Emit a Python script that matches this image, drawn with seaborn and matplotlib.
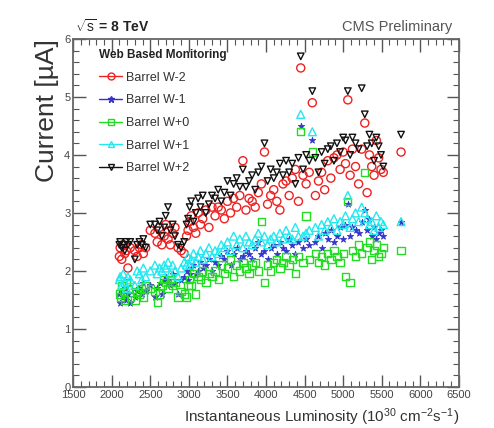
import matplotlib
matplotlib.use("Agg")
import matplotlib.pyplot as plt
from matplotlib.lines import Line2D
from matplotlib.ticker import MultipleLocator
import seaborn as sns
import pandas as pd

# ---------------- data ----------------
luminosity = [
    2100, 2110, 2130, 2150, 2170, 2190, 2210, 2240, 2300, 2330,
    2360, 2390, 2410, 2440, 2500, 2560, 2590, 2620, 2650, 2680,
    2700, 2730, 2760, 2790, 2820, 2860, 2900, 2940, 2970, 2990,
    3010, 3030, 3060, 3090, 3120, 3150, 3180, 3220, 3260, 3300,
    3340, 3380, 3420, 3460, 3500, 3540, 3580, 3620, 3660, 3700,
    3740, 3780, 3820, 3860, 3900, 3940, 3980, 4020, 4060, 4100,
    4140, 4180, 4220, 4260, 4300, 4340, 4380, 4420, 4450, 4480,
    4520, 4560, 4600, 4640, 4680, 4720, 4760, 4800, 4840, 4880,
    4920, 4960, 5000, 5030, 5060, 5090, 5120, 5160, 5200, 5240,
    5280, 5310, 5340, 5370, 5400, 5430, 5460, 5490, 5520, 5750,
]

barrel_wm2 = [
    2.25, 2.40, 2.20, 2.45, 2.30, 2.35, 2.05, 2.40, 2.35, 2.25,
    2.40, 2.45, 2.30, 2.40, 2.70, 2.65, 2.50, 2.75, 2.45, 2.60,
    2.80, 2.55, 2.45, 2.65, 2.75, 2.40, 2.35, 2.30, 2.60, 2.70,
    2.85, 2.95, 2.75, 2.65, 3.00, 2.80, 2.90, 3.05, 2.75, 3.10,
    2.95, 3.10, 3.05, 2.90, 3.20, 3.00, 3.25, 3.10, 3.30, 3.90,
    3.05, 3.25, 3.20, 3.10, 3.35, 3.50, 4.05, 3.15, 3.30, 3.40,
    3.20, 3.05, 3.50, 3.55, 3.30, 3.60, 3.75, 3.20, 5.50, 3.65,
    3.50, 3.70, 4.90, 3.30, 3.55, 3.70, 3.40, 3.90, 3.60, 3.95,
    4.00, 3.75, 4.05, 3.85, 4.95, 3.65, 4.10, 3.80, 3.50, 4.10,
    4.55, 3.35, 4.00, 3.80, 3.65, 4.25, 3.95, 3.75, 3.70, 4.05,
]

barrel_wm1 = [
    1.60, 1.45, 1.65, 1.55, 1.70, 1.50, 1.60, 1.45, 1.55, 1.65,
    1.70, 1.60, 1.80, 1.65, 1.75, 1.55, 1.70, 1.80, 1.60, 1.85,
    1.90, 1.85, 1.75, 1.95, 1.80, 1.60, 1.85, 1.90, 2.00, 1.85,
    1.95, 2.05, 2.10, 1.95, 2.00, 2.15, 2.05, 2.10, 2.20, 2.00,
    2.15, 2.10, 2.25, 2.20, 2.35, 2.10, 2.30, 2.40, 2.20, 2.25,
    2.35, 2.30, 2.20, 2.40, 2.50, 2.30, 2.35, 2.20, 2.40, 2.45,
    2.30, 2.50, 2.40, 2.35, 2.55, 2.45, 2.30, 2.50, 4.50, 2.40,
    2.55, 2.45, 4.25, 2.50, 2.60, 2.40, 2.65, 2.55, 2.70, 2.50,
    2.60, 2.75, 2.55, 2.80, 3.15, 2.60, 2.75, 2.70, 2.65, 2.85,
    3.05, 2.70, 2.90, 2.60, 2.75, 2.55, 2.65, 2.70, 2.60, 2.85,
]

barrel_w0 = [
    1.60, 1.55, 1.75, 1.65, 1.50, 1.80, 1.70, 1.55, 1.50, 1.65,
    1.60, 1.70, 1.55, 1.75, 1.70, 1.65, 1.45, 1.60, 1.75, 1.85,
    1.80, 1.70, 1.85, 1.75, 1.80, 1.55, 1.65, 1.60, 1.55, 1.75,
    1.85, 1.75, 1.95, 1.60, 1.90, 1.85, 2.00, 1.80, 1.95, 1.90,
    2.00, 1.85, 2.10, 1.95, 2.05, 2.20, 1.90, 2.10, 2.00, 2.15,
    2.05, 1.95, 2.10, 2.15, 2.00, 2.85, 1.80, 2.10, 2.00, 2.15,
    2.20, 2.05, 2.15, 2.25, 2.10, 2.20, 1.95, 2.25, 4.40, 2.15,
    2.95, 2.20, 4.05, 2.30, 2.15, 2.25, 2.10, 2.30, 2.20, 2.35,
    2.25, 2.15, 2.30, 1.90, 3.20, 1.80, 2.35, 2.25, 2.45, 2.30,
    3.70, 2.40, 2.50, 2.20, 2.35, 2.45, 2.25, 2.30, 2.40, 2.35,
]

barrel_wp1 = [
    1.85, 1.90, 1.75, 1.95, 1.80, 1.70, 1.90, 1.85, 1.75, 2.00,
    1.95, 1.85, 2.05, 1.90, 2.00, 2.10, 1.95, 2.05, 2.00, 2.10,
    2.05, 2.15, 1.95, 2.10, 2.00, 1.90, 2.05, 2.15, 2.10, 2.25,
    2.10, 2.20, 2.30, 2.15, 2.25, 2.35, 2.20, 2.30, 2.40, 2.25,
    2.35, 2.30, 2.45, 2.40, 2.50, 2.35, 2.60, 2.45, 2.55, 2.40,
    2.60, 2.50, 2.45, 2.55, 2.65, 2.50, 2.60, 2.45, 2.55, 2.60,
    2.50, 2.65, 2.55, 2.70, 2.60, 2.55, 2.75, 2.60, 4.70, 2.60,
    2.65, 2.70, 4.40, 2.75, 2.60, 2.80, 2.70, 2.85, 2.75, 2.90,
    2.70, 2.85, 2.80, 2.95, 3.30, 2.75, 2.90, 3.00, 2.85, 3.10,
    3.00, 2.90, 2.80, 2.85, 2.70, 2.95, 2.75, 2.85, 2.80, 2.85,
]

barrel_wp2 = [
    2.45, 2.50, 2.40, 2.45, 2.35, 2.50, 2.45, 2.50, 2.20, 2.45,
    2.50, 2.45, 2.55, 2.40, 2.80, 2.80, 2.70, 2.85, 2.60, 2.75,
    2.95, 3.10, 2.70, 2.80, 2.60, 2.45, 2.40, 2.50, 2.80, 2.90,
    3.10, 3.20, 2.85, 3.00, 3.25, 3.10, 3.30, 3.00, 3.15, 3.30,
    3.25, 3.40, 3.20, 3.35, 3.55, 3.30, 3.50, 3.60, 3.45, 3.75,
    3.45, 3.55, 3.65, 3.40, 3.70, 3.80, 4.20, 3.55, 3.75, 3.60,
    3.70, 3.85, 3.65, 3.90, 3.70, 3.85, 3.50, 3.95, 5.70, 3.75,
    4.00, 3.90, 5.10, 3.95, 3.70, 4.05, 3.85, 4.10, 4.15, 3.90,
    4.20, 4.05, 4.30, 4.25, 5.10, 4.00, 4.30, 4.20, 4.10, 5.15,
    4.70, 4.15, 4.35, 4.20, 3.90, 4.30, 4.15, 4.00, 3.80, 4.35,
]

series_names = ["Barrel W-2", "Barrel W-1", "Barrel W+0", "Barrel W+1", "Barrel W+2"]
series_values = [barrel_wm2, barrel_wm1, barrel_w0, barrel_wp1, barrel_wp2]

x_ticks = [1500, 2000, 2500, 3000, 3500, 4000, 4500, 5000, 5500, 6000, 6500]
y_ticks = [0, 1, 2, 3, 4, 5, 6]

# ---------------- styles ----------------
colors = ["#ee2222", "#3333cc", "#22dd22", "#22e8f0", "#111111"]
markers = ["o", "*", "s", "^", "v"]
open_marker = [True, False, True, True, True]
sizes = [34, 24, 28, 32, 22]

frames = []
for name, vals in zip(series_names, series_values):
    frames.append(pd.DataFrame({"lumi": luminosity, "current": vals, "wheel": name}))
df = pd.concat(frames, ignore_index=True)

sns.set_theme(style="white")
plt.rcParams["font.family"] = ["Liberation Sans", "DejaVu Sans"]
plt.rcParams["mathtext.fontset"] = "custom"
plt.rcParams["mathtext.rm"] = "Liberation Sans"
plt.rcParams["mathtext.it"] = "Liberation Sans"
plt.rcParams["mathtext.bf"] = "Liberation Sans:bold"

fig = plt.figure(figsize=(4.94, 4.28), dpi=100)
ax = fig.add_axes([0.148, 0.096, 0.781, 0.813])

for name, col, mk, op, sz in zip(series_names, colors, markers, open_marker, sizes):
    sub = df[df["wheel"] == name]
    if op:
        sns.scatterplot(data=sub, x="lumi", y="current", ax=ax, marker=mk, s=sz,
                        facecolor="none", edgecolor=col, linewidth=1.0, legend=False)
    else:
        sns.scatterplot(data=sub, x="lumi", y="current", ax=ax, marker=mk, s=sz,
                        color=col, edgecolor=col, linewidth=0.5, legend=False)

ax.set_xlim(1500, 6500)
ax.set_ylim(0, 6)
ax.set_xticks(x_ticks)
ax.set_yticks(y_ticks)
ax.xaxis.set_minor_locator(MultipleLocator(100))
ax.yaxis.set_minor_locator(MultipleLocator(0.2))
ax.tick_params(which="both", direction="in", top=True, right=True, bottom=True, left=True,
               colors="#555555", labelcolor="#444444")
ax.tick_params(which="major", length=9, width=1.0, labelsize=8, pad=2)
ax.tick_params(which="minor", length=4.5, width=0.8)
for sp in ax.spines.values():
    sp.set_color("#666666")
    sp.set_linewidth(1.3)

ax.set_xlabel(r"Instantaneous Luminosity (10$^{30}$ cm$^{-2}$s$^{-1}$)", fontsize=11,
              color="#333333", loc="right", labelpad=5)
ax.set_ylabel(r"Current [µA]", fontsize=19, color="#333333", loc="top", labelpad=4)

fig.text(0.152, 0.937, r"$\sqrt{s}$ = 8 TeV", fontsize=10, fontweight="bold",
         color="#222222", ha="left", va="center")
fig.text(0.916, 0.937, "CMS Preliminary", fontsize=10.5, color="#555555",
         ha="right", va="center")

handles = []
for name, col, mk, op in zip(series_names, colors, markers, open_marker):
    handles.append(Line2D([], [], color=col, lw=1.0, marker=mk, markersize=5,
                          markerfacecolor="none" if op else col, markeredgecolor=col))
leg = ax.legend(handles=handles, labels=series_names, title="Web Based Monitoring",
                loc="upper left", bbox_to_anchor=(0.055, 0.985), frameon=False,
                fontsize=9, title_fontproperties={"weight": "bold", "size": 8.5},
                alignment="left", handlelength=1.8, handletextpad=0.3, labelspacing=0.85,
                borderaxespad=0.0)
for t in leg.get_texts():
    t.set_color("#333333")
leg.get_title().set_color("#222222")

fig.savefig("out.png", dpi=100)
